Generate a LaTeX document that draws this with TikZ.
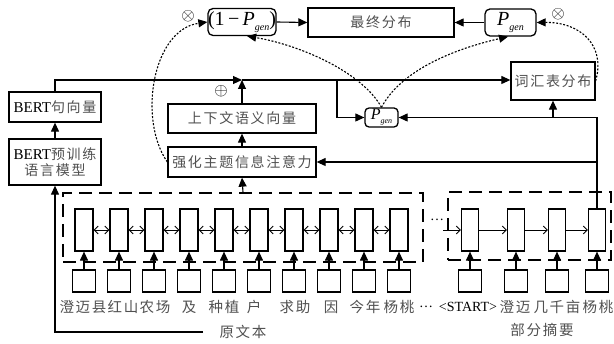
\documentclass[tikz,border=0pt]{standalone}
\usepackage{fontspec}
\setmainfont{Liberation Serif}
\newfontfamily\cjk{Noto Sans CJK SC}[LetterSpace=12,Color=505050]
\usetikzlibrary{arrows.meta}
\begin{document}
\begin{tikzpicture}[x=1pt,y=-1pt,
  box/.style={draw, line width=1.3pt, inner sep=0pt, fill=white, font=\fontsize{14}{17}\selectfont},
  rbox/.style={box, rounded corners=5pt},
  cell/.style={draw, line width=1.2pt, minimum width=18pt, minimum height=42pt, inner sep=0pt},
  inp/.style={draw, line width=1.2pt, minimum width=23pt, minimum height=22pt, inner sep=0pt},
  arr/.style={line width=1.1pt, -{Triangle[length=9pt,width=8pt]}},
  dotarr/.style={line width=1.1pt, dash pattern=on 2pt off 1.6pt, -{Triangle[length=9pt,width=8pt]}},
  dbox/.style={draw, line width=1.4pt, dash pattern=on 13pt off 7pt, inner sep=0pt},
  bid/.style={line width=0.9pt, {Straight Barb[length=4pt,width=8pt]}-{Straight Barb[length=4pt,width=8pt]}},
  fwd/.style={line width=0.9pt, -{Straight Barb[length=4pt,width=8pt]}},
  tok/.style={inner sep=0pt, font=\cjk\fontsize{14.5}{16}\selectfont},
  lat/.style={inner sep=0pt, font=\fontsize{14}{16}\selectfont},
  sym/.style={inner sep=0pt, font=\fontsize{17}{17}\selectfont}
]
\useasboundingbox (0,0) rectangle (614,344);

% top row
\node[rbox, minimum width=68pt, minimum height=27pt] (omp) at (242,22)
  {\fontsize{20}{20}\selectfont(1\,−\,\textit{P}\raisebox{-5pt}{\fontsize{10}{10}\selectfont\itshape gen})};
\node[box, minimum width=146pt, minimum height=29pt] (final) at (381,22.5) {\cjk 最终分布};
\node[rbox, minimum width=51pt, minimum height=27pt] (pgt) at (510.5,22.5)
  {\fontsize{20}{20}\selectfont\textit{P}\raisebox{-5pt}{\fontsize{10}{10}\selectfont\itshape gen}};
\node[sym] (ot1) at (188,16) {$\otimes$};
\node[sym] (ot2) at (558,14) {$\otimes$};

% middle boxes
\node[box, minimum width=84pt, minimum height=38pt] (vocab) at (553,81) {\cjk 词汇表分布};
\node[rbox, rounded corners=4pt, minimum width=33pt, minimum height=19pt] (pgm) at (381.5,117.5)
  {\fontsize{16}{16}\selectfont\textit{P}\raisebox{-4pt}{\fontsize{8}{8}\selectfont\itshape gen}};
\node[box, minimum width=148pt, minimum height=29pt] (ctx) at (242,118.5) {\cjk 上下文语义向量};
\node[box, minimum width=148pt, minimum height=30pt] (attn) at (242,162) {\cjk 强化主题信息注意力};
\node[sym] (op) at (221,91) {$\oplus$};

% BERT boxes
\node[box, minimum width=92pt, minimum height=30pt] (bertvec) at (55,107)
  {\fontsize{15}{17}\selectfont BERT{\cjk\fontsize{14}{17}\selectfont 句向量}};
\node[box, minimum width=92pt, minimum height=46pt, align=center] (bertpre) at (55,162)
  {\fontsize{15}{20}\selectfont BERT{\cjk\fontsize{14}{20}\selectfont 预训练}\\[-1pt]{\cjk\fontsize{14}{20}\selectfont 语言模型}};

% encoder
\node[dbox, minimum width=360pt, minimum height=69pt] (enc) at (243,227.5) {};
\foreach \i in {0,...,9} {
  \node[cell, fill=white] (e\i) at ({84+35*\i},230) {};
  \node[inp] (s\i) at ({84+35*\i},281) {};
  \draw[arr] (s\i.north) -- (e\i.south);
}
\foreach \i [evaluate=\i as \j using int(\i+1)] in {0,...,8}
  \draw[bid] (e\i.east) -- (e\j.west);

% decoder
\node[dbox, minimum width=163pt, minimum height=68pt] (dec) at (529.5,226) {};
\foreach \x [count=\k] in {470,516,557,597} {
  \node[cell, minimum width=17pt, fill=white] (d\k) at (\x,230) {};
  \node[inp] (t\k) at (\x,281) {};
  \draw[arr] (t\k.north) -- (d\k.south);
}
\foreach \k [evaluate=\k as \m using int(\k+1)] in {1,2,3}
  \draw[fwd] (d\k.east) -- (d\m.west);
\coordinate (din) at (443,230);
\draw[fwd] (din) -- (d1.west);
\node[lat] (dots1) at (437,220) {…};

% tokens
\node[tok] (w1) at (83,307) {澄迈县};
\node[tok] (w2) at (123,307) {红山};
\node[tok] (w3) at (155,307) {农场};
\node[tok] (w4) at (189,307) {及};
\node[tok] (w5) at (224,307) {种植};
\node[tok] (w6) at (254,307) {户};
\node[tok] (w7) at (295,307) {求助};
\node[tok] (w8) at (331,307) {因};
\node[tok] (w9) at (365,307) {今年};
\node[tok] (w10) at (399,307) {杨桃};
\node[lat] (dots2) at (426,307) {…};
\node[lat] (v1) at (468,307) {<START>};
\node[tok] (v2) at (515,307) {澄迈};
\node[tok] (v3) at (557,307) {几千亩};
\node[tok] (v4) at (598,307) {杨桃};
\node[tok] (yw) at (243,332) {原文本};
\node[tok] (bz) at (542,330) {部分摘要};

% connectors
\coordinate (j) at (242,80);
\coordinate (b) at (337,80);
\coordinate (yl) at (203,332);
\draw[arr] (bertvec.north) |- (j);
\draw[arr] (ctx.north) -- (j);
\draw[arr] (j) -- (j -| vocab.west);
\draw[arr] (b) |- (pgm.west);
\draw[arr] (attn.north) -- (ctx.south);
\draw[arr] (enc.north) -- (attn.south);
\draw[arr] (bertpre.north) -- (bertvec.south);
\draw[arr] (yl) -| (bertpre.south);
\draw[arr] (d4.north) |- (pgm.east);
\draw[arr] (pgm.east -| vocab.south) -- (vocab.south);
\draw[arr] (d4.north |- attn.east) -- (attn.east);
\draw[arr] (omp.east) -- (final.west);
\draw[arr] (pgt.west) -- (final.east);

% dotted curves
\draw[dotarr] (attn.west) .. controls (138,120) and (152,30) .. (omp.west);
\draw[dotarr] (pgm.north) .. controls (362,72) and (300,45) .. (omp.-70);
\draw[dotarr] (pgm.north) .. controls (400,72) and (450,50) .. (pgt.-100);
\draw[dotarr] (vocab.east) .. controls (606,45) and (580,22) .. (pgt.east);
\end{tikzpicture}
\end{document}
